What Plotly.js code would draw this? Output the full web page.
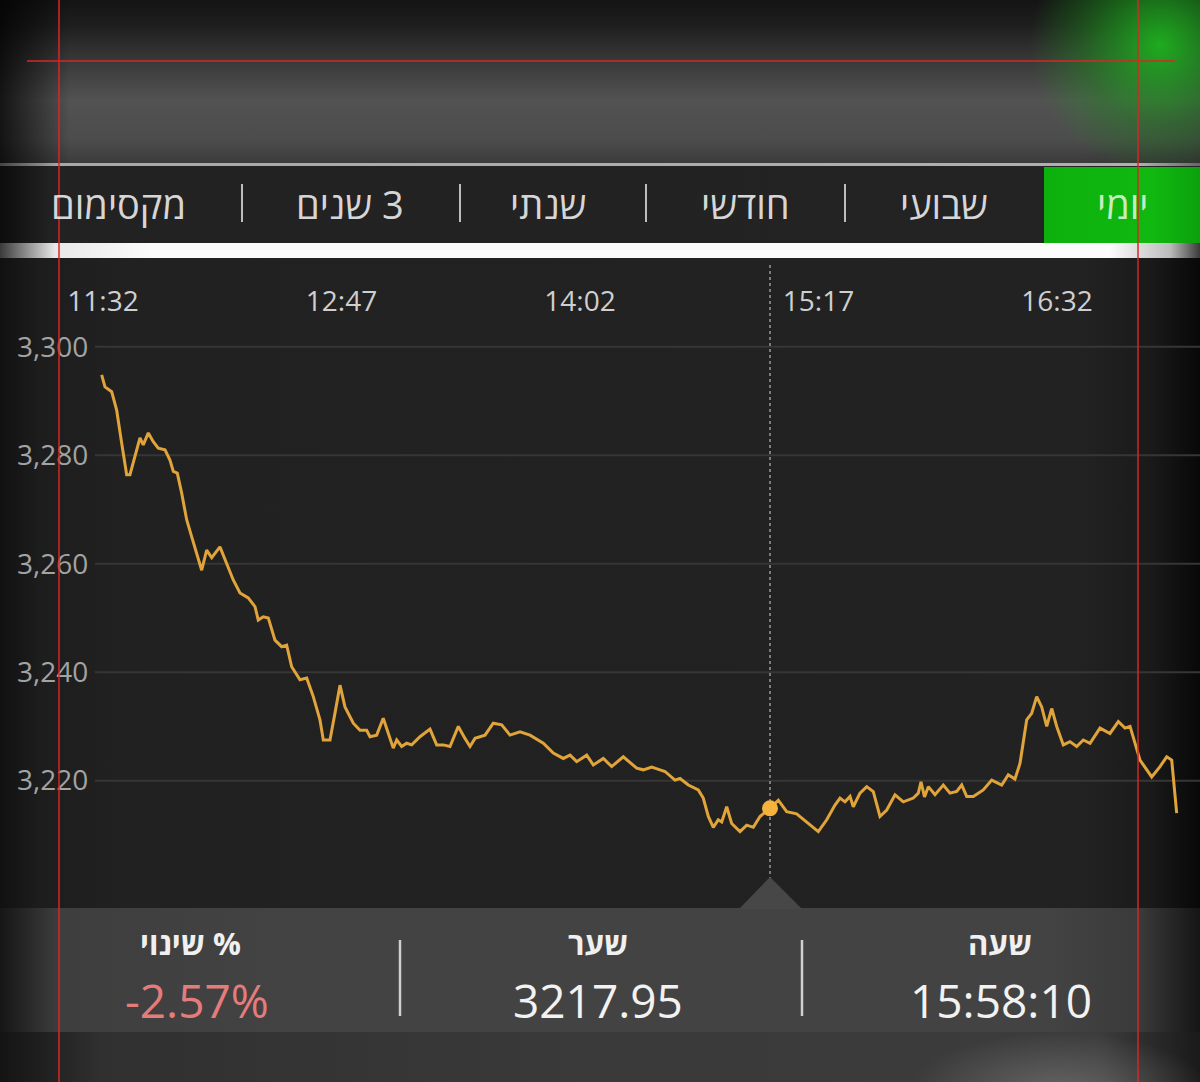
<!DOCTYPE html>
<html><head><meta charset="utf-8">
<script src="https://cdn.plot.ly/plotly-3.0.1.min.js"></script>
<style>
html,body{margin:0;padding:0;background:#111;}
#wrap{position:relative;width:1200px;height:1082px;overflow:hidden;background:#1c1c1c;}
.l{position:absolute;left:0;width:1200px;}
#hdr{top:0;height:164px;background:
 radial-gradient(ellipse 130px 130px at 1160px 45px, rgba(30,185,30,0.9), rgba(30,150,30,0.4) 60%, rgba(30,120,30,0) 100%),
 linear-gradient(to right, rgba(0,0,0,0.75) 0px, rgba(0,0,0,0) 70px, rgba(0,0,0,0) 1080px, rgba(0,0,0,0.2) 1200px),
 linear-gradient(to bottom, #141414 0px, #1e1e1e 25px, #383838 60px, #525252 100px, #4c4c4c 140px, #3b3b3b 164px);}
#hl{top:163px;height:3px;background:linear-gradient(to right,#444 0,#a8a8a8 60px,#b0b0b0 1140px,#666 1200px);}
#tabs{top:166px;height:77px;background:linear-gradient(to right,#0c0c0c 0px,#222 50px,#232323 1100px);}
#green{position:absolute;left:1044px;top:167px;width:156px;height:76px;background:linear-gradient(to right,#0db10d 0,#10b810 110px,#0ca00c 156px);}
#white{top:243px;height:15px;background:linear-gradient(to right,#3a3a3a 0,#e8e8e8 55px,#fbfbfb 150px,#fbfbfb 1110px,#bcbcbc 1170px,#3a3a3a 1200px);}
#chartbg{top:258px;height:650px;background:linear-gradient(to right,#111 0,#1d1d1d 40px,#212121 120px,#222 1080px,#1a1a1a 1150px,#080808 1200px);}
#panel{top:908px;height:124px;background:linear-gradient(to right,#161616 0,#3e3e3e 60px,#434343 300px,#434343 1050px,#3a3a3a 1140px,#151515 1200px);}
#foot{top:1032px;height:50px;background:
 radial-gradient(ellipse 150px 60px at 1060px 60px, rgba(115,115,115,0.75), rgba(110,110,110,0) 100%),
 linear-gradient(to right, #141414 0, #303030 100px, #3a3a3a 600px, #3c3c3c 1100px, #1a1a1a 1200px);}
#chart{position:absolute;left:0;top:0;width:1200px;height:1082px;}
</style></head>
<body>
<div id="wrap">
 <div class="l" id="hdr"></div>
 <div class="l" id="hl"></div>
 <div class="l" id="tabs"></div>
 <div id="green"></div>
 <div class="l" id="white"></div>
 <div class="l" id="chartbg"></div>
 <div class="l" id="panel"></div>
 <div class="l" id="foot"></div>
 <div id="chart"></div>
</div>
<script>
// ---------- data ----------
const xTickLabels = ['11:32','12:47','14:02','15:17','16:32'];
const yTickValues = [3220, 3240, 3260, 3280, 3300];
const times = [
 '11:31:35','11:32:38','11:34:44','11:36:18','11:37:53','11:39:27','11:40:29','11:42:04','11:43:38','11:44:40',
 '11:46:15','11:47:49','11:49:23','11:51:30','11:53:04','11:54:07','11:55:22','11:56:45','11:58:19','11:59:53',
 '12:01:28','12:03:02','12:04:37','12:06:11','12:08:47','12:10:54','12:12:58','12:15:05','12:17:41','12:19:48',
 '12:20:50','12:22:25','12:23:59','12:26:05','12:28:11','12:29:46','12:31:20','12:33:57','12:36:04','12:38:08',
 '12:40:14','12:41:17','12:43:23','12:44:58','12:46:32','12:48:06','12:50:43','12:52:49','12:54:55',
 '12:55:58','12:58:04','13:00:08','13:01:43','13:03:17','13:04:22','13:05:56','13:07:30','13:09:05','13:11:41',
 '13:14:50','13:16:56','13:19:01','13:21:07','13:23:44','13:25:50','13:27:25','13:28:59','13:32:08','13:34:44',
 '13:37:23','13:39:59','13:43:08','13:46:17','13:50:28','13:53:36','13:56:45','13:58:52','14:00:58','14:04:07',
 '14:06:11','14:09:20','14:11:58','14:15:37','14:19:50','14:21:55','14:24:33','14:27:10',
 '14:28:44','14:31:52','14:33:27','14:36:04','14:39:12','14:40:46','14:42:21','14:43:55','14:45:29','14:46:34',
 '14:48:08','14:49:42','14:52:19','14:54:25','14:56:30','14:58:36','15:01:45','15:04:22','15:07:00','15:10:08',
 '15:13:17','15:16:56','15:19:35','15:22:11','15:23:46','15:25:20','15:26:55','15:27:56','15:30:03','15:32:10',
 '15:34:14','15:36:20','15:38:27','15:41:04','15:43:40','15:46:49','15:48:23',
 '15:49:14','15:50:20','15:51:32','15:53:38','15:56:15','15:58:21','16:00:28','16:02:02','16:03:36','16:05:41',
 '16:08:49','16:11:28','16:14:37','16:16:41','16:18:47','16:20:22','16:22:28','16:24:02','16:25:37','16:27:11',
 '16:28:46','16:30:20','16:31:55','16:33:59','16:36:05','16:38:11','16:40:16','16:42:23','16:45:31','16:48:40',
 '16:51:17','16:53:23','16:54:58','16:58:06','17:01:47','17:04:23','17:06:30','17:08:04','17:09:38'
];
const values = [
 3294.8,3292.6,3291.7,3288.3,3282.2,3276.4,3276.4,3279.7,3283.2,3281.9,
 3284.1,3282.5,3281.3,3281.0,3279.1,3277.0,3276.7,3273.0,3268.1,3265.0,
 3262.0,3258.8,3262.5,3261.1,3263.1,3260.1,3257.0,3254.6,3253.7,3252.1,
 3249.6,3250.2,3250.0,3245.9,3244.7,3245.0,3241.0,3238.6,3238.9,3235.5,
 3231.2,3227.5,3227.5,3232.5,3237.6,3233.6,3230.6,3229.3,3229.3,
 3228.1,3228.4,3231.5,3228.7,3226.0,3227.5,3226.3,3226.9,3226.6,3228.1,
 3229.5,3226.6,3226.6,3226.3,3230.0,3227.8,3226.3,3227.8,3228.4,3230.6,
 3230.3,3228.4,3229.0,3228.4,3226.9,3225.1,3224.1,3224.7,3223.5,3224.7,
 3222.9,3224.1,3222.6,3224.4,3222.3,3222.0,3222.5,3222.0,
 3221.7,3220.1,3220.4,3219.2,3218.3,3216.8,3213.4,3211.4,3212.8,3212.4,
 3215.2,3212.1,3210.6,3211.8,3211.4,3213.4,3214.9,3216.4,3214.3,3213.9,
 3212.4,3210.6,3212.8,3215.5,3216.8,3216.1,3217.1,3215.2,3217.7,3218.9,
 3218.0,3213.4,3214.6,3217.4,3216.1,3216.8,3217.7,
 3219.8,3217.0,3218.9,3217.4,3219.2,3217.7,3218.0,3219.2,3217.1,3217.1,
 3218.3,3220.1,3219.2,3221.1,3220.3,3223.2,3231.2,3232.4,3235.5,3233.6,
 3230.0,3233.3,3230.0,3226.6,3227.2,3226.3,3227.5,3226.9,3229.7,3228.7,
 3230.9,3229.7,3230.0,3223.8,3220.7,3222.6,3224.4,3223.8,3214.0
];
const cursorTime = '15:01:45';
const tabs = ['יומי','שבועי','חודשי','שנתי','3 שנים','מקסימום'];
const infoLabels = ['שעה','שער','% שינוי'];
const infoValues = ['15:58:10','3217.95','-2.57%'];

// ---------- layout helpers ----------
const DAY = '2024-01-01 ';
const FW = 1200, FH = 1082, T = 258, H = 650;
const px = x => x / FW;
const py = y => (T + H - y) / H;
const xRange = [DAY + '10:59:37', DAY + '17:16:58'];
const ms = s => Date.parse(s.replace(' ', 'T') + 'Z');
const FONT = 'Open Sans, Noto Sans, Liberation Sans, DejaVu Sans, sans-serif';
const RLM = '\u200F'; // render Hebrew strings with right-to-left order, as on the original page

const xs = times.map(t => DAY + t);
const ci = times.indexOf(cursorTime);
const cx = (ms(xs[ci]) - ms(xRange[0])) / (ms(xRange[1]) - ms(xRange[0])) * FW;

const tabX = [1122, 944, 745, 548, 350, 118];
const tabSep = [845, 646, 460, 242];
const infoLabelX = [1000, 598, 190];
const infoValueX = [1001, 598, 197];
const infoSep = [802, 400];
const infoValColors = ['#f2f2f2', '#f2f2f2', '#e57c7c'];

const shapes = [];
yTickValues.forEach(v => shapes.push({type:'line', xref:'paper', yref:'y', x0:px(95), x1:1, y0:v, y1:v,
  line:{color:'#363636', width:2}, layer:'below'}));
shapes.push({type:'line', xref:'x', yref:'paper', x0:xs[ci], x1:xs[ci], y0:py(880), y1:py(262),
  line:{color:'#7c7c7c', width:2, dash:'dot'}, layer:'below'});
shapes.push({type:'path', xref:'paper', yref:'paper',
  path:`M ${px(cx-31)},${py(909)} L ${px(cx)},${py(877)} L ${px(cx+32)},${py(909)} Z`,
  fillcolor:'#474747', line:{width:0}, layer:'above'});
tabSep.forEach(x => shapes.push({type:'line', xref:'paper', yref:'paper', x0:px(x), x1:px(x), y0:py(184), y1:py(222),
  line:{color:'#bdbdbd', width:2}}));
infoSep.forEach(x => shapes.push({type:'line', xref:'paper', yref:'paper', x0:px(x), x1:px(x), y0:py(940), y1:py(1016),
  line:{color:'#cfcfcf', width:2.5}}));
// red guide lines
[59, 1138].forEach(x => shapes.push({type:'line', xref:'paper', yref:'paper', x0:px(x), x1:px(x), y0:py(0), y1:py(FH),
  line:{color:'#d82626', width:1.5}, layer:'above'}));
shapes.push({type:'line', xref:'paper', yref:'paper', x0:px(27), x1:px(1175), y0:py(61), y1:py(61),
  line:{color:'#d82626', width:1.5}, layer:'above'});

const annotations = [];
tabs.forEach((t, i) => annotations.push({text:RLM + t, xref:'paper', yref:'paper', x:px(tabX[i]), y:py(204),
  xanchor:'center', yanchor:'middle', showarrow:false,
  font:{family:FONT, size:38, color: i === 0 ? '#c6ecc2' : '#d6d6d6'}}));
infoLabels.forEach((t, i) => annotations.push({text:RLM + t, xref:'paper', yref:'paper', x:px(infoLabelX[i]), y:py(943),
  xanchor:'center', yanchor:'middle', showarrow:false,
  font:{family:FONT, size:31, color:'#f0f0f0', weight:'bold'}}));
infoValues.forEach((t, i) => annotations.push({text:t, xref:'paper', yref:'paper', x:px(infoValueX[i]), y:py(1000),
  xanchor:'center', yanchor:'middle', showarrow:false,
  font:{family:FONT, size:46, color:infoValColors[i]}}));

const data = [
 {type:'scatter', mode:'lines', x:xs, y:values, line:{color:'#e0a43a', width:3}, hoverinfo:'skip'},
 {type:'scatter', mode:'markers', x:[xs[ci]], y:[values[ci]], marker:{size:16, color:'#f4b43c'}, hoverinfo:'skip'}
];

const layout = {
 width:FW, height:FH, margin:{l:0, r:0, t:T, b:FH - T - H, pad:0},
 paper_bgcolor:'rgba(0,0,0,0)', plot_bgcolor:'rgba(0,0,0,0)', showlegend:false,
 font:{family:FONT},
 xaxis:{type:'date', range:xRange, side:'top', tickvals:xTickLabels.map(t => DAY + t + ':00'), ticktext:xTickLabels,
   ticklabelposition:'inside', ticklabelstandoff:30, ticks:'', showgrid:false, zeroline:false, showline:false,
   tickfont:{family:FONT, size:28, color:'#cfcfcf'}, fixedrange:true},
 yaxis:{range:[3196.53, 3316.35], tickvals:yTickValues, tickformat:',d', showgrid:false, zeroline:false, showline:false,
   ticks:'', ticklabelposition:'inside', ticklabelstandoff:14,
   tickfont:{family:FONT, size:28, color:'#a3a3a3'}, fixedrange:true},
 shapes:shapes, annotations:annotations
};
Plotly.newPlot('chart', data, layout, {displayModeBar:false, staticPlot:true});
</script>
</body></html>
